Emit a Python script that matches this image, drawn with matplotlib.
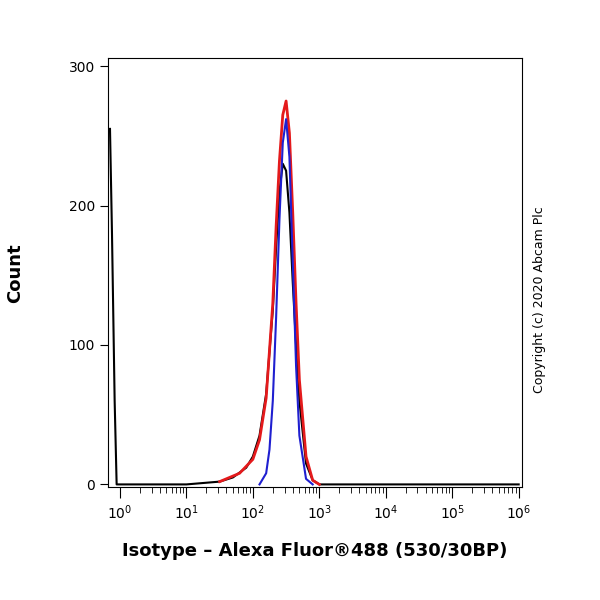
import matplotlib
matplotlib.use("Agg")
import matplotlib.pyplot as plt
import numpy as np

# x in log10 units (decades)
black_x = [-0.15, -0.12, -0.08, -0.05, 0.0, 1.0, 1.5, 1.7, 1.9, 2.0, 2.1, 2.2, 2.3, 2.35, 2.4, 2.45, 2.5, 2.55, 2.6, 2.65, 2.7, 2.8, 2.9, 3.0, 6.0]
black_y = [255, 180, 60, 0, 0, 0, 2, 5, 12, 20, 35, 65, 125, 170, 210, 230, 225, 195, 145, 100, 60, 15, 3, 0, 0]
red_x = [1.5, 1.8, 2.0, 2.1, 2.2, 2.3, 2.35, 2.4, 2.45, 2.5, 2.55, 2.6, 2.65, 2.7, 2.8, 2.9, 3.0]
red_y = [2, 8, 18, 32, 62, 130, 185, 232, 265, 275, 252, 195, 130, 75, 20, 3, 0]
blue_x = [2.1, 2.2, 2.25, 2.3, 2.35, 2.4, 2.45, 2.5, 2.55, 2.6, 2.65, 2.7, 2.8, 2.9]
blue_y = [0, 8, 25, 60, 120, 190, 245, 262, 235, 160, 85, 35, 4, 0]
decades = [0, 1, 2, 3, 4, 5, 6]
yticks = [0, 100, 200, 300]

fig = plt.figure(figsize=(6, 6), dpi=100)
ax = fig.add_axes([0.18, 0.188, 0.69, 0.715])
ax.plot(black_x, black_y, color="black", lw=1.5)
ax.plot(red_x, red_y, color="#e41a1c", lw=2)
ax.plot(blue_x, blue_y, color="#1f1fd0", lw=1.5)
ax.set_xlim(-0.18, 6.05)
ax.set_ylim(-2, 305.7)
ax.set_xticks(decades)
ax.set_xticklabels([f"$10^{{{d}}}$" for d in decades], fontsize=10)
minors = [d + np.log10(k) for d in decades[:-1] for k in range(2, 10)]
ax.set_xticks(minors, minor=True)
ax.tick_params(axis="x", which="major", length=8, direction="out", pad=4)
ax.tick_params(axis="x", which="minor", length=4, direction="out")
ax.set_yticks(yticks)
ax.tick_params(axis="y", length=6, labelsize=10)
ax.set_ylabel("Count", fontsize=13, fontweight="bold", labelpad=32)
ax.set_xlabel("Isotype – Alexa Fluor®488 (530/30BP)", fontsize=13, fontweight="bold", labelpad=14)
fig.text(0.9, 0.5, "Copyright (c) 2020 Abcam Plc", rotation=90, fontsize=9, va="center", ha="center")
fig.savefig("out.png", dpi=100)
